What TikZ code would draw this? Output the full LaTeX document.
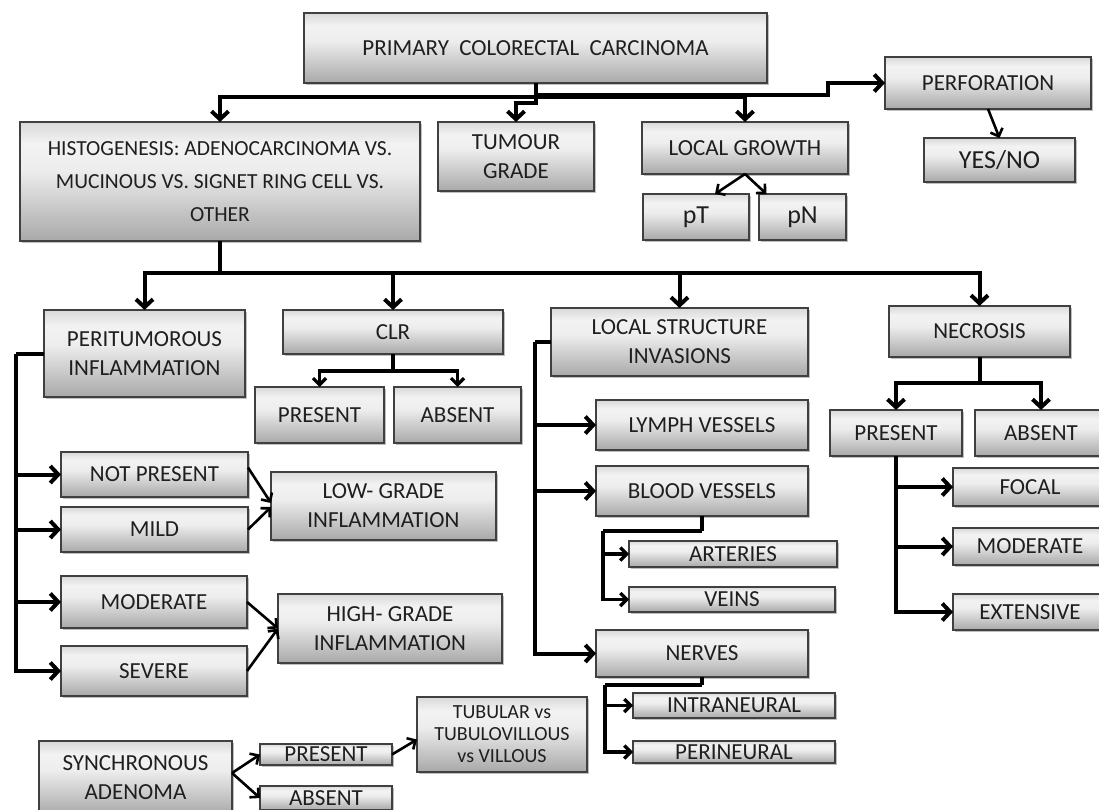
\documentclass[tikz,border=0pt]{standalone}
\usepackage{fontspec}
\setmainfont{Carlito}
\usetikzlibrary{arrows.meta,shadows,calc}
\pgfdeclareverticalshading{boxsh}{100bp}{color(0bp)=(black!34); color(25bp)=(black!34); color(55bp)=(black!7); color(66bp)=(black!5); color(75bp)=(black!15); color(100bp)=(black!15)}
\newcommand\fs{\fontsize{23}{29}\selectfont}
\newcommand\fh{\fontsize{21.5}{33}\selectfont}
\newcommand\fb{\fontsize{26}{30}\selectfont}
\newcommand\ft{\fontsize{20}{22}\selectfont}
\tikzset{
  box/.style={draw=black!75, line width=1.1pt, shading=boxsh, inner sep=0pt, outer sep=0pt,
    align=center, font=\fs, text=black!88,
    drop shadow={shadow xshift=2pt, shadow yshift=-2pt, opacity=0.25, fill=black}},
  main/.style={line width=4pt, black},
  sub/.style={line width=3.2pt, black},
  diag/.style={line width=2.6pt, black},
  arr/.style={-{Straight Barb[length=8pt,width=17pt]}},
  sarr/.style={-{Straight Barb[length=6.5pt,width=13pt]}},
}
\newcommand\bx[7][]{\node[box,#1, minimum width={(#5)-(#3)}, minimum height={(#6)-(#4)}] (#2) at ({((#3)+(#5))/2},{((#4)+(#6))/2}) {#7};}
\begin{document}
\begin{tikzpicture}[x=1pt,y=-1pt]
\useasboundingbox (0,0) rectangle (1099,810);
\fill[white] (0,0) rectangle (1099,810);
\clip (0,0) rectangle (1099,810);
% ---- boxes
\bx{prim}{304}{13}{767}{83}{PRIMARY\ \ COLORECTAL\ \ CARCINOMA}
\bx[font=\fh]{hist}{20}{122}{420}{241}{HISTOGENESIS: ADENOCARCINOMA VS.\\MUCINOUS VS. SIGNET RING CELL VS.\\OTHER}
\bx{tum}{438}{122}{594}{191}{TUMOUR\\GRADE}
\bx{lg}{642}{122}{848}{174}{LOCAL GROWTH}
\bx[font=\fb]{pt}{643}{194}{749}{240}{pT}
\bx[font=\fb]{pn}{759}{194}{846}{240}{pN}
\bx{perf}{885}{57}{1091}{109}{PERFORATION}
\bx[font=\fb]{yn}{924}{138}{1075}{182}{YES/NO}
\bx{peri}{44}{310}{245}{397}{PERITUMOROUS\\INFLAMMATION}
\bx{clr}{283}{310}{503}{354}{CLR}
\bx{clrp}{255}{387}{384}{443}{PRESENT}
\bx{clra}{394}{387}{521}{443}{ABSENT}
\bx{lsi}{551}{308}{808}{376}{LOCAL STRUCTURE\\INVASIONS}
\bx{nec}{889}{306}{1070}{357}{NECROSIS}
\bx{necp}{830}{410}{962}{456}{PRESENT}
\bx{neca}{975}{410}{1107}{456}{ABSENT}
\bx{foc}{953}{468}{1107}{506}{FOCAL}
\bx{nmod}{953}{528}{1107}{565}{MODERATE}
\bx{ext}{953}{594}{1107}{630}{EXTENSIVE}
\bx{notp}{61}{452}{248}{497}{NOT PRESENT}
\bx{mild}{61}{507}{248}{552}{MILD}
\bx{low}{271}{472}{496}{540}{LOW- GRADE\\INFLAMMATION}
\bx{mod}{61}{576}{247}{628}{MODERATE}
\bx{sev}{61}{646}{247}{696}{SEVERE}
\bx{high}{278}{594}{502}{663}{HIGH- GRADE\\INFLAMMATION}
\bx{lymph}{596}{400}{808}{450}{LYMPH VESSELS}
\bx{blood}{596}{466}{808}{516}{BLOOD VESSELS}
\bx{art}{629}{541}{837}{567}{ARTERIES}
\bx{vein}{629}{587}{835}{612}{VEINS}
\bx{nerv}{596}{630}{808}{677}{NERVES}
\bx{intra}{633}{693}{835}{718}{INTRANEURAL}
\bx{perin}{633}{741}{835}{763}{PERINEURAL}
\bx{sync}{39}{741}{232}{815}{SYNCHRONOUS\\ADENOMA}
\bx{syp}{260}{744}{392}{765}{PRESENT}
\bx{sya}{260}{786}{392}{810}{ABSENT}
\bx[font=\ft]{tub}{417}{697}{587}{772}{TUBULAR vs\\TUBULOVILLOUS\\vs VILLOUS}
% ---- top connectors
\draw[main] (prim.south) -- ++(0,14) coordinate (tj);
\draw[main,arr] (tj) -| (hist.north);
\draw[main,arr] (tj) -- ++(0,6) -| (tum.north);
\draw[main,arr] (tj) -| (lg.north);
\draw[main,arr] ([yshift=2pt]tj) -| ([xshift=-57pt]perf.west) -- (perf.west);
\draw[diag,sarr] (lg.south) -- ([xshift=19pt]pt.north);
\draw[diag,sarr] (lg.south) -- ([xshift=-36pt]pn.north);
\draw[diag,sarr] (perf.south) -- (yn.north);
% ---- second level
\draw[main] (hist.south) -- ++(0,32) coordinate (hj);
\draw[main,arr] (hj) -| (peri.north);
\draw[main,arr] (hj) -| (clr.north);
\draw[main,arr] (hj) -| (lsi.north);
\draw[main,arr] (hj) -| (nec.north);
% CLR
\draw[sub] (clr.south) -- ++(0,17) coordinate (cj);
\draw[sub,sarr] (cj) -| (clrp.north);
\draw[sub,sarr] (cj) -| (clra.north);
% necrosis
\draw[main] (nec.south) -- ++(0,26) coordinate (nj);
\draw[main,arr] (nj) -| (necp.north);
\draw[main,arr] (nj) -| (neca.north);
\draw[main,arr] (necp.south) |- (foc.west);
\draw[main,arr] (necp.south) |- (nmod.west);
\draw[main,arr] (necp.south) |- (ext.west);
% peritumorous
\draw[main] (peri.west) -- ++(-28,0) coordinate (pj);
\draw[main,arr] (pj) |- (notp.west);
\draw[main,arr] (pj) |- (mild.west);
\draw[main,arr] (pj) |- (mod.west);
\draw[main,arr] (pj) |- (sev.west);
\draw[diag,sarr] ([yshift=7pt]notp.east) -- ([yshift=3pt]low.west);
\draw[diag,sarr] (mild.east) -- ([yshift=-1pt]low.west);
\draw[diag,sarr] (mod.east) -- (high.west);
\draw[diag,sarr] (sev.east) -- (high.west);
% local structure invasions
\draw[main] (lsi.west) -- ++(-16,0) coordinate (lj);
\draw[main,arr] (lj) |- (lymph.west);
\draw[main,arr] (lj) |- (blood.west);
\draw[main,arr] (lj) |- (nerv.west);
\draw[sub] (blood.south) -- ++(0,15) coordinate (bj);
\coordinate (bk) at ([xshift=-26pt]art.west |- bj);
\draw[sub] (bj) -- (bk);
\draw[sub,sarr] (bk) |- (art.west);
\draw[sub,sarr] (bk) |- (vein.west);
\draw[sub] (nerv.south) -- ++(0,8) coordinate (vj);
\coordinate (vk) at ([xshift=-28pt]intra.west |- vj);
\draw[sub] (vj) -- (vk);
\draw[sub,sarr] (vk) |- (intra.west);
\draw[sub,sarr] (vk) |- (perin.west);
% synchronous adenoma
\draw[diag,sarr] ([yshift=5pt]sync.east) -- (syp.west);
\draw[diag,sarr] ([yshift=5pt]sync.east) -- (sya.west);
\draw[diag,sarr] (syp.east) -- ([yshift=-5pt]tub.west);
\end{tikzpicture}
\end{document}
